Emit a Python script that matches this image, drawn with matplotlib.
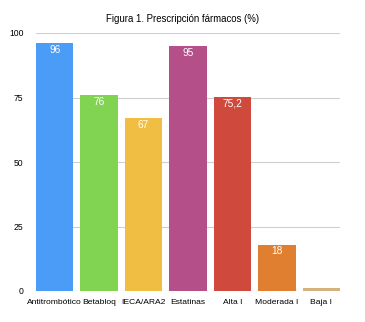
import matplotlib
matplotlib.use("Agg")
import matplotlib.pyplot as plt

categories = ["Antitrombótico", "Betabloq", "IECA/ARA2", "Estatinas", "Alta I", "Moderada I", "Baja I"]
values = [96, 76, 67, 95, 75.2, 18, 1.2]
labels = ["96", "76", "67", "95", "75,2", "18", ""]
colors = ["#4A9CF6", "#80D452", "#F0BE42", "#B44F8A", "#CF4A3D", "#E07F2F", "#D5B27B"]
yticks = [0, 25, 50, 75, 100]

plt.rcParams['font.family'] = ['Liberation Sans', 'DejaVu Sans']
fig = plt.figure(figsize=(3.65, 3.22), dpi=100)
ax = fig.add_axes([36/365, 31/322, 304/365, 258/322])
w = 0.843
x = list(range(len(categories)))
ax.bar(x, values, width=w, color=colors, zorder=2)
for xi, v, lab in zip(x, values, labels):
    if lab:
        ax.text(xi, v - 2.6, lab, ha="center", va="center", color="white", fontsize=7.3, zorder=3)
ax.set_xlim(-w/2, len(categories) - 1 + w/2)
ax.set_ylim(0, 100)
ax.set_yticks(yticks)
ax.set_yticklabels([str(t) for t in yticks], fontsize=6.2)
ax.set_xticks(x)
ax.set_xticklabels(categories, fontsize=6.1)
ax.tick_params(axis="both", length=0)
ax.tick_params(axis="y", pad=9)
ax.tick_params(axis="x", pad=6)
for s in ax.spines.values():
    s.set_visible(False)
ax.yaxis.grid(True, color="#CFCFCF", linewidth=0.8, zorder=0)
ax.set_axisbelow(True)
fig.text(0.5, 1 - 19/322, "Figura 1. Prescripción fármacos (%)", ha="center", va="center", fontsize=6.9)
fig.savefig("out.png", dpi=100)
